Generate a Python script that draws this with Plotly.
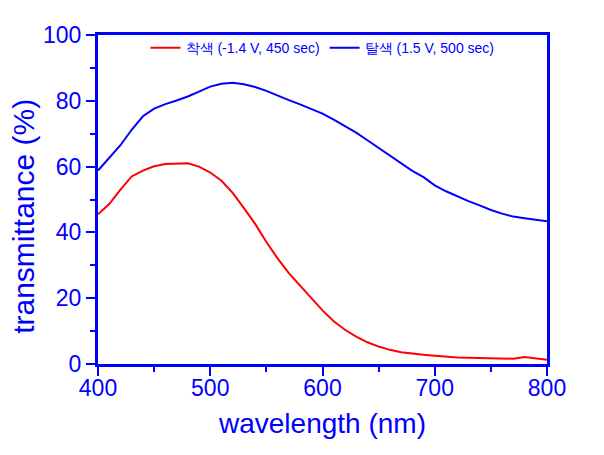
import plotly.graph_objects as go

wavelength = [400, 410, 420, 430, 440, 450, 460, 470, 480, 490, 500, 510, 520, 530, 540,
              550, 560, 570, 580, 590, 600, 610, 620, 630, 640, 650, 660, 670, 680, 690,
              700, 710, 720, 730, 740, 750, 760, 770, 780, 790, 800]
colored = [45.5, 48.6, 53.0, 57.0, 58.8, 60.1, 60.8, 61.0, 61.0, 60.0, 58.2, 55.7, 52.0, 47.4, 42.6,
           37.1, 32.1, 27.6, 23.9, 19.9, 16.3, 13.0, 10.4, 8.3, 6.6, 5.3, 4.3, 3.6, 3.1, 2.8,
           2.5, 2.2, 2.0, 1.9, 1.8, 1.7, 1.6, 1.6, 2.1, 1.7, 1.3]
bleached = [58.8, 62.5, 66.5, 71.2, 75.3, 77.6, 79.0, 80.1, 81.3, 82.8, 84.3, 85.2, 85.5, 85.0, 84.2,
            83.0, 81.5, 80.2, 78.9, 77.4, 76.1, 74.3, 72.3, 70.3, 68.0, 65.7, 63.3, 60.9, 58.7, 56.8,
            54.3, 52.5, 50.9, 49.5, 48.2, 46.8, 45.7, 44.8, 44.3, 43.9, 43.4]

BLUE = "#0000FF"
FONT = "Liberation Sans, Arial, sans-serif"
fig = go.Figure()
fig.add_trace(go.Scatter(x=wavelength, y=colored, mode="lines",
                         line=dict(color="#FF0000", width=2),
                         name="착색 (-1.4 V, 450 sec)"))
fig.add_trace(go.Scatter(x=wavelength, y=bleached, mode="lines",
                         line=dict(color=BLUE, width=2),
                         name="탈색 (1.5 V, 500 sec)"))

axis_common = dict(showline=True, linecolor=BLUE, linewidth=3, mirror=True,
                   ticks="outside", ticklen=9, tickwidth=2, tickcolor=BLUE,
                   showgrid=False, zeroline=False,
                   tickfont=dict(family=FONT, size=23, color=BLUE))

fig.update_layout(
    width=597, height=448,
    margin=dict(l=90, r=58, t=27, b=92),
    paper_bgcolor="white", plot_bgcolor="white",
    font=dict(family=FONT, color=BLUE),
    xaxis=dict(range=[400, 800], dtick=100, tick0=400,
               minor=dict(dtick=50, ticklen=5, tickwidth=2, tickcolor=BLUE, ticks="outside"),
               ticklabelstandoff=-8,
               title=dict(text="wavelength (nm)", font=dict(size=28, color=BLUE), standoff=14),
               **axis_common),
    yaxis=dict(range=[0, 100], dtick=20, tick0=0,
               minor=dict(dtick=10, ticklen=5, tickwidth=2, tickcolor=BLUE, ticks="outside"),
               **axis_common),
    legend=dict(orientation="h", x=0.5, xanchor="center", y=0.96, yanchor="middle",
                bgcolor="rgba(0,0,0,0)", font=dict(size=14, color=BLUE),
                itemwidth=30),
    showlegend=True,
    annotations=[dict(text="transmittance (%)", textangle=-90, showarrow=False,
                      xref="paper", yref="paper", x=-0.165, y=0.45,
                      xanchor="center", yanchor="middle",
                      font=dict(family=FONT, size=30, color=BLUE))],
)

fig.write_html("out.html")
